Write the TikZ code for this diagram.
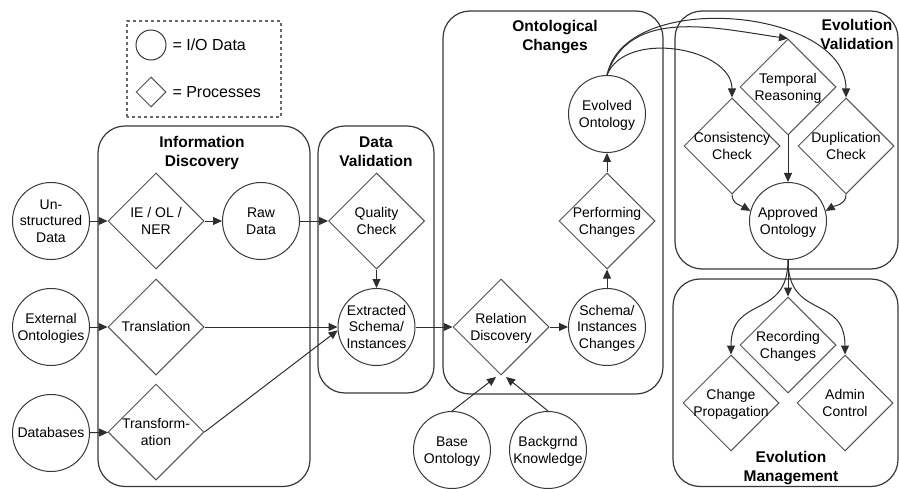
\documentclass[tikz,border=0pt]{standalone}
\usepackage{fontspec}
\setmainfont{Liberation Sans}
\usetikzlibrary{shapes.geometric,arrows.meta}
% centred multi-line text that does not widen the shape around it
\newcommand{\lbl}[1]{\makebox[0pt][c]{\raisebox{0pt}[\dimexpr\height+1.5pt][\dimexpr\depth-1.5pt]{\begin{tabular}{@{}c@{}}#1\end{tabular}}}}

\begin{document}
\begin{tikzpicture}[x=1pt,y=1pt,
  every node/.style={font=\fontsize{14}{16.7}\selectfont, text=black},
  iodata/.style={circle, draw=black!78, line width=1pt, minimum size=77pt, inner sep=0pt},
  procd/.style={diamond, draw=black!68, line width=1pt, minimum width=96pt, minimum height=96pt, inner sep=0pt, aspect=1},
  stage/.style={draw=black!78, line width=1.2pt, rounded corners=27pt},
  stagetitle/.style={font=\bfseries\fontsize{15.5}{19}\selectfont},
  flow/.style={draw=black!82, line width=1pt, -{Triangle[length=9pt,width=8pt]}},
]
\useasboundingbox (0,0) rectangle (899,488);

% legend
\draw[black!60, line width=1.2pt, dash pattern=on 3pt off 3pt] (127,371) rectangle (281,467);
\node[circle, draw=black!78, line width=1pt, minimum size=30pt, inner sep=0pt] (legio) at (151,443) {};
\node[diamond, draw=black!68, line width=1pt, minimum width=30pt, minimum height=30pt, inner sep=0pt] (legpr) at (151,396) {};
\node[anchor=west, font=\fontsize{16}{19}\selectfont] (legiot) at (169,443) {= I/O Data};
\node[anchor=west, font=\fontsize{16}{19}\selectfont] (legprt) at (169,396) {= Processes};

% stages
\draw[stage] (98,1.5) rectangle (310,362);
\draw[stage] (318,95) rectangle (434,362);
\draw[stage] (443,94) rectangle (663,477);
\draw[stage] (675,219) rectangle (898,477);
\draw[stage] (673,1.5) rectangle (898,209);

\node[stagetitle] (tinfo) at (202,336.5) {\lbl{Information\\Discovery}};
\node[stagetitle] (tdval) at (376,336.5) {\lbl{Data\\Validation}};
\node[stagetitle] (tochg) at (555,452) {\lbl{Ontological\\Changes}};
\node[stagetitle] (teval) at (857,453) {\lbl{Evolution\\Validation}};
\node[stagetitle] (temgt) at (791,21.5) {\lbl{Evolution\\Management}};

% inputs
\node[iodata] (unstr) at (51,267) {\lbl{Un-\\structured\\Data}};
\node[iodata] (ext) at (51,161) {\lbl{External\\Ontologies}};
\node[iodata] (db) at (51,55) {\lbl{Databases}};

% information discovery
\node[procd] (ie) at (156,267) {\lbl{IE / OL /\\NER}};
\node[procd] (trl) at (156,161) {\lbl{Translation}};
\node[procd] (trf) at (156,56) {\lbl{Transform-\\ation}};
\node[iodata] (raw) at (261,267) {\lbl{Raw\\Data}};

% data validation
\node[procd] (qc) at (376.5,267) {\lbl{Quality\\Check}};
\node[iodata] (extr) at (376.5,161) {\lbl{Extracted\\Schema/\\Instances}};

% ontological changes
\node[procd] (rel) at (501,161) {\lbl{Relation\\Discovery}};
\node[iodata] (sic) at (607,161) {\lbl{Schema/\\Instances\\Changes}};
\node[procd] (perf) at (607,267) {\lbl{Performing\\Changes}};
\node[iodata] (evo) at (607,374) {\lbl{Evolved\\Ontology}};
\node[iodata] (base) at (452,38) {\lbl{Base\\Ontology}};
\node[iodata] (bk) at (548,38) {\lbl{Backgrnd\\Knowledge}};
\coordinate (relL) at (496,111);
\coordinate (relR) at (506,111);

% evolution validation
\node[procd] (temp) at (788,401) {\lbl{Temporal\\Reasoning}};
\node[procd] (cons) at (732,342) {\lbl{Consistency\\Check}};
\node[procd] (dup) at (846,342) {\lbl{Duplication\\Check}};
\node[iodata] (appr) at (788,267) {\lbl{Approved\\Ontology}};

% evolution management
\node[procd] (rec) at (788,143) {\lbl{Recording\\Changes}};
\node[procd] (prop) at (731,85) {\lbl{Change\\Propagation}};
\node[procd] (adm) at (845,85) {\lbl{Admin\\Control}};

% connectors
\draw[flow] (unstr) -- (ie);
\draw[flow] (ie) -- (raw);
\draw[flow] (raw) -- (qc);
\draw[flow] (qc) -- (extr);
\draw[flow] (ext) -- (trl);
\draw[flow] (trl) -- (extr);
\draw[flow] (db) -- (trf);
\draw[flow] (trf.east) -- (extr.185);
\draw[flow] (extr) -- (rel);
\draw[flow] (rel) -- (sic);
\draw[flow] (sic) -- (perf);
\draw[flow] (perf) -- (evo);
\draw[flow] (base.north) -- (relL);
\draw[flow] (bk.north) -- (relR);

\draw[flow] (evo.north) to[out=78, in=90, looseness=0.95] (dup.north);
\draw[flow] (evo.north) to[out=72, in=172] (temp.north);
\draw[flow] (evo.north) to[out=68, in=90] (cons.north);
\draw[flow] (temp) -- (appr);
\draw[flow] (cons.south) to[out=-90, in=150] (appr.165);
\draw[flow] (dup.south) to[out=-90, in=30] (appr.15);

\draw[flow] (appr) -- (rec);
\draw[flow] (appr.south) to[out=-90, in=90, looseness=1.4] (prop.north);
\draw[flow] (appr.south) to[out=-90, in=90, looseness=1.4] (adm.north);
\end{tikzpicture}
\end{document}
